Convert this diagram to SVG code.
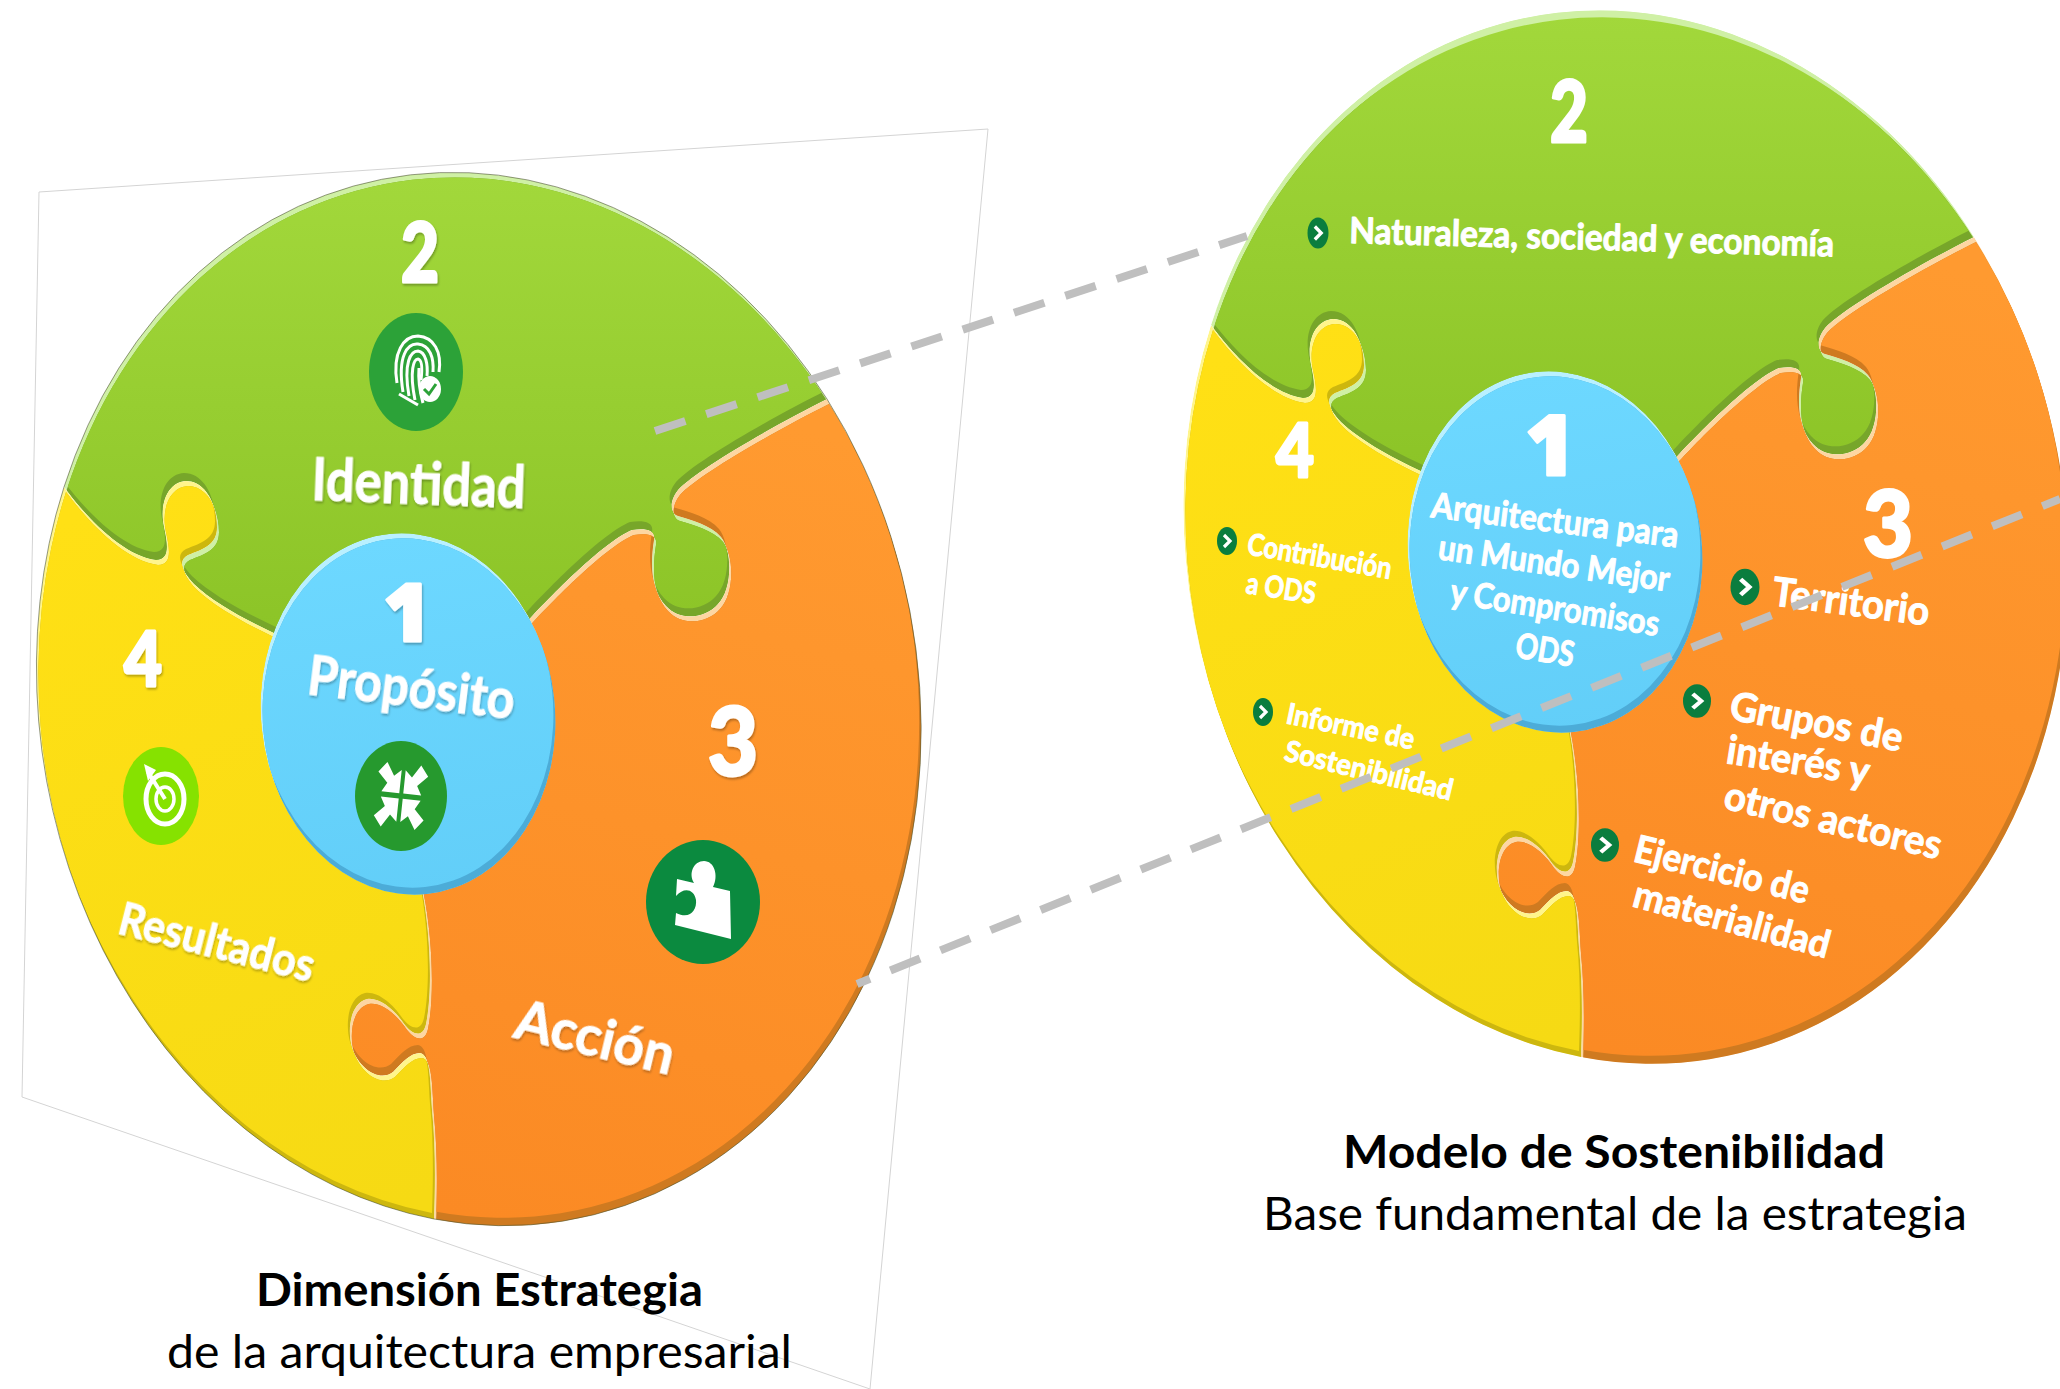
<svg xmlns="http://www.w3.org/2000/svg" width="2060" height="1389" viewBox="0 0 2060 1389">
<style>
.w{font-family:Lato,"Liberation Sans",sans-serif;font-weight:700;fill:#fff;stroke:#fff;stroke-width:1;stroke-linejoin:round;}
.sh{filter:url(#ds);}
.d{text-anchor:middle;font-weight:900;stroke-width:3;}
.one{font-family:"Open Sans",Lato,sans-serif;}
.cap{font-family:Lato,"Liberation Sans",sans-serif;font-size:46px;fill:#000;}
.b{font-weight:700;}
.plane{fill:none;stroke:#d4d4d4;stroke-width:1;}
.dash{fill:none;stroke:#bfbfbf;stroke-width:8;stroke-dasharray:32 22;}
.edge{fill:none;stroke:#4d5530;stroke-width:1;stroke-opacity:.6;}
</style>
<defs>
<filter id="ds" x="-20%" y="-30%" width="140%" height="160%"><feDropShadow dx="1" dy="2" stdDeviation="1" flood-color="#000" flood-opacity=".28"/></filter>
<linearGradient id="gG" gradientUnits="userSpaceOnUse" x1="450" y1="170" x2="450" y2="630"><stop offset="0" stop-color="#a2d83b"/><stop offset="1" stop-color="#8cc427"/></linearGradient>
<linearGradient id="gO" gradientUnits="userSpaceOnUse" x1="700" y1="400" x2="500" y2="1220"><stop offset="0" stop-color="#ff9a30"/><stop offset="1" stop-color="#fb8a24"/></linearGradient>
<linearGradient id="gY" gradientUnits="userSpaceOnUse" x1="100" y1="500" x2="400" y2="1200"><stop offset="0" stop-color="#ffe015"/><stop offset="1" stop-color="#f6da14"/></linearGradient>
<linearGradient id="gB" gradientUnits="userSpaceOnUse" x1="400" y1="530" x2="420" y2="900"><stop offset="0" stop-color="#6dd8ff"/><stop offset="1" stop-color="#62cef8"/></linearGradient>

<path id="pG" d="M64,487 C90,522 125,556 156,560 C170,560 168,545 164,527 C159,503 168,482 186,481 C206,481 217,505 217,527 C217,545 203,549 188,555 C178,560 181,570 194,584 C215,604 250,622 280,636 L408,714 L525,624 C550,596 606,540 632,530 C646,528 656,530 654,540 C650,565 651,590 666,606 C681,622 706,618 718,604 C732,590 733,552 721,537 C711,525 691,520 678,516 C671,514 668,503 678,490 C696,470 775,425 827,399 A440 529 -9.3 0 0 64,487 Z"/>
<path id="pO" d="M827,399 A440 529 -9.3 0 1 434,1219 C435,1190 436,1150 432,1110 C430,1075 430,1055 420,1053 C410,1053 403,1062 393,1072 C380,1082 360,1070 352,1048 C347,1030 350,1003 367,999 C380,997 395,1010 405,1025 C413,1035 423,1038 426,1024 C433,990 430,930 422,890 L408,714 L525,624 C550,596 606,540 632,530 C646,528 656,530 654,540 C650,565 651,590 666,606 C681,622 706,618 718,604 C732,590 733,552 721,537 C711,525 691,520 678,516 C671,514 668,503 678,490 C696,470 775,425 827,399 Z"/>
<path id="pY" d="M434,1219 A440 529 -9.3 0 1 64,487 C90,522 125,556 156,560 C170,560 168,545 164,527 C159,503 168,482 186,481 C206,481 217,505 217,527 C217,545 203,549 188,555 C178,560 181,570 194,584 C215,604 250,622 280,636 L408,714 L422,890 C430,930 433,990 426,1024 C423,1038 413,1035 405,1025 C395,1010 380,997 367,999 C350,1003 347,1030 352,1048 C360,1070 380,1082 393,1072 C403,1062 410,1053 420,1053 C430,1055 430,1075 432,1110 C436,1150 435,1190 434,1219 Z"/>
<ellipse id="pB" cx="408" cy="714" rx="147" ry="181" transform="rotate(-6 408 714)"/>

<clipPath id="cG"><use href="#pG"/></clipPath>
<clipPath id="cGu"><use href="#pG" transform="translate(-2,-8)"/></clipPath>
<clipPath id="cO"><use href="#pO"/></clipPath>
<clipPath id="cOu"><use href="#pO" transform="translate(-2,-8)"/></clipPath>
<clipPath id="cY"><use href="#pY"/></clipPath>
<clipPath id="cYu"><use href="#pY" transform="translate(-2,-6)"/></clipPath>
<clipPath id="cB"><use href="#pB"/></clipPath>
<clipPath id="cBu"><use href="#pB" transform="translate(-2,-7)"/></clipPath>

<g id="piece-green" clip-path="url(#cG)">
<use href="#pG" fill="#cff0a5"/>
<use href="#pG" transform="translate(2,5)" fill="#77a62a"/>
<g clip-path="url(#cGu)"><use href="#pG" transform="translate(2,5)" fill="url(#gG)"/></g>
</g>
<g id="piece-orange" clip-path="url(#cO)">
<use href="#pO" fill="#fdd6a2"/>
<use href="#pO" transform="translate(2,5)" fill="#cf7a20"/>
<g clip-path="url(#cOu)"><use href="#pO" transform="translate(2,5)" fill="url(#gO)"/></g>
</g>
<g id="piece-yellow" clip-path="url(#cY)">
<use href="#pY" fill="#fff58c"/>
<use href="#pY" transform="translate(2,5)" fill="#cdb70e"/>
<g clip-path="url(#cYu)"><use href="#pY" transform="translate(2,5)" fill="url(#gY)"/></g>
</g>
<g id="piece-blue" clip-path="url(#cB)">
<use href="#pB" fill="#b9f0ff"/>
<use href="#pB" transform="translate(2,5)" fill="#4cacd8"/>
<g clip-path="url(#cBu)"><use href="#pB" transform="translate(2,5)" fill="url(#gB)"/></g>
</g>

<g id="bul"><ellipse rx="10" ry="14" fill="#0a7d3e"/><path d="M-3,-6 L3,0 L-3,6" fill="none" stroke="#fff" stroke-width="3.2"/></g>
<polygon id="arr" points="-2,-2 -2,-20 -9,-15 -17,-25 -25,-17 -15,-9 -20,-2" fill="#fff"/>
</defs>

<polyline class="plane" points="870,1389 988,129 39,192 22,1097 870,1389"/>

<g id="node-identidad">
<use href="#piece-green"/>
<text class="w d sh" x="420" y="282" font-size="82" textLength="38" lengthAdjust="spacingAndGlyphs">2</text>
<ellipse cx="416" cy="372" rx="47" ry="59" fill="#2ca238"/>
<g id="fingerprint" fill="none" stroke="#fff" stroke-width="3">
<path d="M397,383 C392,352 404,336 418,336 C434,337 442,352 439,372"/>
<path d="M403,392 C397,355 408,343 418,344 C430,345 434,358 433,372"/>
<path d="M409,396 C403,362 411,351 418,351 C426,352 428,365 427,376"/>
<path d="M415,400 C409,370 414,359 418,359 C423,360 422,372 421,380"/>
<path d="M419,368 C418,380 420,392 423,403"/>
<path d="M399,394 L418,405"/>
</g>
<ellipse cx="430" cy="389" rx="11" ry="13" fill="#fff"/>
<path d="M424,389 L429,394 L436,384" fill="none" stroke="#2ca238" stroke-width="3"/>
<text class="w sh" transform="translate(311,500) rotate(2.2)" font-size="60" textLength="214" lengthAdjust="spacingAndGlyphs">Identidad</text>
</g>

<g id="node-accion">
<use href="#piece-orange"/>
<text class="w d sh" x="733" y="775" font-size="94" textLength="50" lengthAdjust="spacingAndGlyphs">3</text>
<ellipse cx="703" cy="902" rx="57" ry="62" fill="#0b8a3f"/>
<path transform="translate(704,901)" d="M-27,-22 L-10,-18 C-16,-28 -10,-40 0,-40 C10,-40 15,-26 9,-14 L26,-10 L27,38 L-29,24 L-28,12 C-14,19 -7,9 -8,-1 C-10,-12 -20,-14 -28,-5 Z" fill="#fff"/>
<text class="w sh" transform="translate(512,1037) rotate(13.5)" font-size="56" textLength="162" lengthAdjust="spacingAndGlyphs">Acción</text>
</g>

<g id="node-resultados">
<use href="#piece-yellow"/>
<text class="w d sh" x="143" y="686" font-size="76" textLength="38" lengthAdjust="spacingAndGlyphs">4</text>
<ellipse cx="161" cy="796" rx="38" ry="49" fill="#86e200"/>
<g fill="none" stroke="#fff">
<ellipse cx="165" cy="799" rx="19" ry="25" stroke-width="5"/>
<ellipse cx="165" cy="799" rx="9" ry="12" stroke-width="3.5"/>
<path d="M165,799 L148,772" stroke-width="4"/>
</g>
<polygon points="144,764 156,770 148,781" fill="#fff"/>
<text class="w sh" transform="translate(116,933) rotate(14.2)" font-size="46" textLength="200" lengthAdjust="spacingAndGlyphs">Resultados</text>
</g>

<g id="node-proposito">
<use href="#piece-blue"/>
<text class="w d one sh" x="407" y="641" font-size="80">1</text>
<text class="w sh" transform="translate(306,694) rotate(7)" font-size="56" textLength="208" lengthAdjust="spacingAndGlyphs">Propósito</text>
<ellipse cx="401" cy="796" rx="46" ry="55" fill="#26992e"/>
<g transform="translate(401,796) rotate(6) scale(1,1.3)">
<use href="#arr"/><use href="#arr" transform="scale(-1,1)"/><use href="#arr" transform="scale(1,-1)"/><use href="#arr" transform="scale(-1,-1)"/>
</g>
</g>
<path class="edge" d="M827,399 A440 529 -9.3 0 1 434,1219 A440 529 -9.3 0 1 64,487 A440 529 -9.3 0 1 827,399"/>

<g id="caption-left">
<text class="cap b" x="256" y="1306" textLength="447" lengthAdjust="spacingAndGlyphs">Dimensión Estrategia</text>
<text class="cap" x="167" y="1368" textLength="625" lengthAdjust="spacingAndGlyphs">de la arquitectura empresarial</text>
</g>

<g id="node-naturaleza">
<use href="#piece-green" transform="translate(1147,-162)"/>
<path d="M1974,237 A440 529 -9.3 0 0 1211,325 A440 515 -9.3 0 1 1974,237 Z" fill="#cff0a5"/>
<text class="w d" x="1569" y="142" font-size="86" textLength="38" lengthAdjust="spacingAndGlyphs">2</text>
<use href="#bul" transform="translate(1318,233) scale(1.05,1.1)"/>
<text class="w" transform="translate(1349,243) rotate(1.6)" font-size="36" textLength="485" lengthAdjust="spacingAndGlyphs">Naturaleza, sociedad y economía</text>
</g>

<g id="node-territorio">
<use href="#piece-orange" transform="translate(1147,-162)"/>
<text class="w d" x="1888" y="557" font-size="92" textLength="50" lengthAdjust="spacingAndGlyphs">3</text>
<use href="#bul" transform="translate(1745,587) scale(1.45,1.3)"/>
<text class="w" transform="translate(1771,605) rotate(7.5)" font-size="40" textLength="158" lengthAdjust="spacingAndGlyphs">Territorio</text>
<use href="#bul" transform="translate(1697,701) scale(1.4,1.2)"/>
<text class="w" transform="translate(1728,719) rotate(10.7)" font-size="40" textLength="175" lengthAdjust="spacingAndGlyphs">Grupos de</text>
<text class="w" transform="translate(1725,763) rotate(9)" font-size="40" textLength="144" lengthAdjust="spacingAndGlyphs">interés y</text>
<text class="w" transform="translate(1722,808) rotate(13.4)" font-size="40" textLength="222" lengthAdjust="spacingAndGlyphs">otros actores</text>
<use href="#bul" transform="translate(1605,845) scale(1.4,1.2)"/>
<text class="w" transform="translate(1632,861) rotate(13.8)" font-size="38" textLength="179" lengthAdjust="spacingAndGlyphs">Ejercicio de</text>
<text class="w" transform="translate(1631,906) rotate(15)" font-size="38" textLength="202" lengthAdjust="spacingAndGlyphs">materialidad</text>
</g>

<g id="node-contribucion">
<use href="#piece-yellow" transform="translate(1147,-162)"/>
<text class="w d" x="1295" y="477" font-size="74" textLength="38" lengthAdjust="spacingAndGlyphs">4</text>
<use href="#bul" transform="translate(1227,541)"/>
<text class="w" transform="translate(1246,554) rotate(9.8)" font-size="30" textLength="146" lengthAdjust="spacingAndGlyphs">Contribución</text>
<text class="w" transform="translate(1245,593) rotate(9)" font-size="30" textLength="70" lengthAdjust="spacingAndGlyphs">a ODS</text>
<use href="#bul" transform="translate(1263,712)"/>
<text class="w" transform="translate(1285,723) rotate(11.7)" font-size="29" textLength="130" lengthAdjust="spacingAndGlyphs">Informe de</text>
<text class="w" transform="translate(1283,760) rotate(13.6)" font-size="29" textLength="172" lengthAdjust="spacingAndGlyphs">Sostenibilidad</text>
</g>

<g id="node-arquitectura">
<use href="#piece-blue" transform="translate(1147,-162)"/>
<text class="w d one" x="1550" y="475" font-size="84">1</text>
<text class="w" transform="translate(1430,517) rotate(7)" font-size="35" textLength="249" lengthAdjust="spacingAndGlyphs">Arquitectura para</text>
<text class="w" transform="translate(1437,559) rotate(8)" font-size="35" textLength="233" lengthAdjust="spacingAndGlyphs">un Mundo Mejor</text>
<text class="w" transform="translate(1449,603) rotate(9)" font-size="35" textLength="211" lengthAdjust="spacingAndGlyphs">y Compromisos</text>
<text class="w" transform="translate(1514,657) rotate(9.6)" font-size="35" textLength="59" lengthAdjust="spacingAndGlyphs">ODS</text>
</g>

<g id="caption-right">
<text class="cap b" x="1343" y="1168" textLength="542" lengthAdjust="spacingAndGlyphs">Modelo de Sostenibilidad</text>
<text class="cap" x="1263" y="1230" textLength="704" lengthAdjust="spacingAndGlyphs">Base fundamental de la estrategia</text>
</g>

<g id="connectors">
<path class="dash" d="M655,431 L1247,236"/>
<path class="dash" stroke-dashoffset="18" d="M857,984 L2060,499"/>
</g>
</svg>
